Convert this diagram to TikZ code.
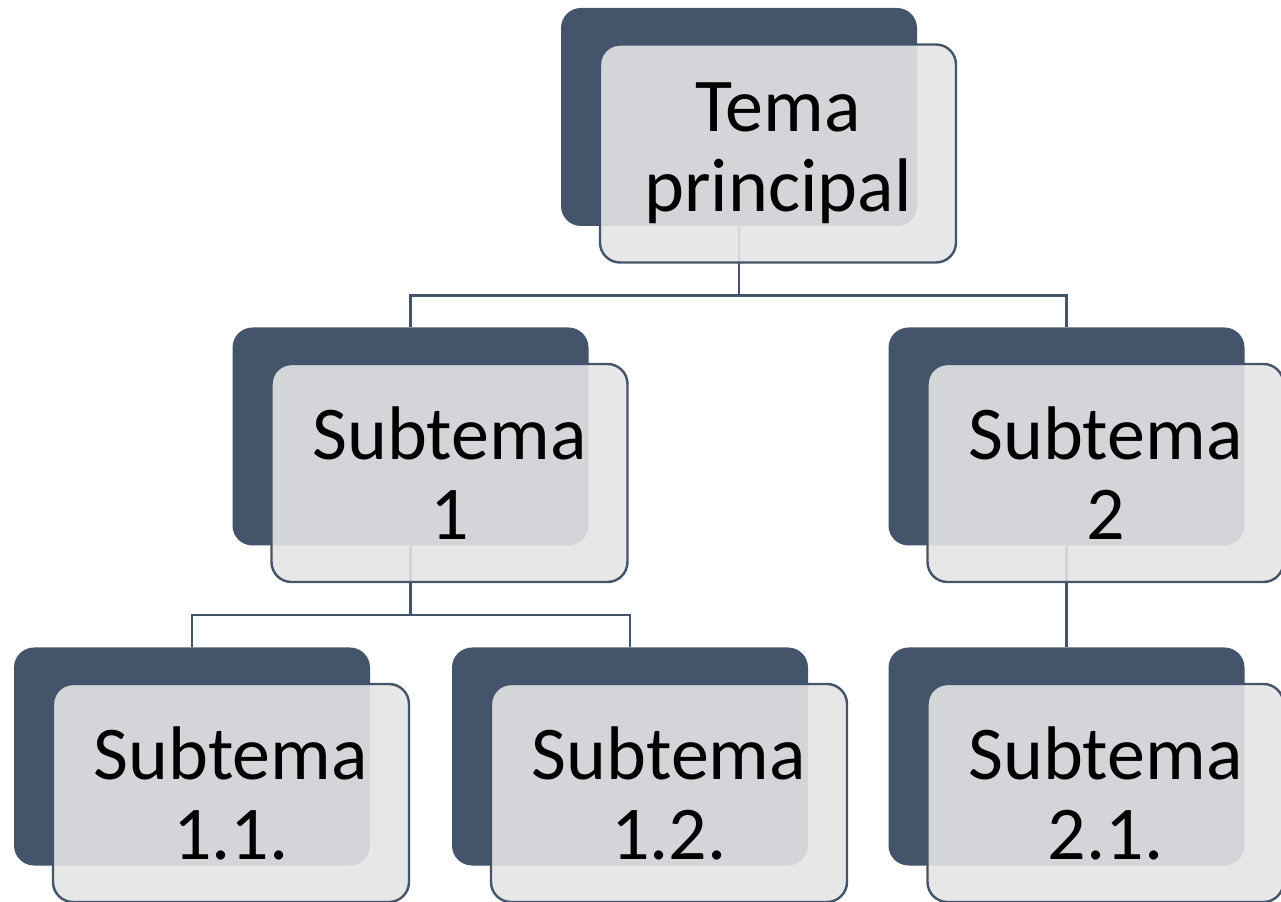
\documentclass[tikz,border=0pt]{standalone}
\usepackage{fontspec}
\setmainfont{Carlito}
\usetikzlibrary{calc}

\definecolor{azul}{HTML}{44546A}
\definecolor{gris}{HTML}{E4E4E4}

\tikzset{
    fondo/.style={rectangle, rounded corners=10pt, fill=azul, inner sep=0pt,
        minimum width=178pt, minimum height=109pt},
    tarjeta/.style={rectangle, rounded corners=10pt, draw=azul, line width=1.2pt,
        fill=gris, fill opacity=0.9, text opacity=1, inner sep=0pt,
        minimum width=178pt, minimum height=109pt, align=center,
        font=\fontsize{38}{40}\selectfont},
    rama/.style={draw=azul, line width=1.25pt}
}

\begin{document}
\begin{tikzpicture}[x=0.5pt, y=0.5pt]
    \useasboundingbox (0,0) rectangle (1281,901);

    % bloques oscuros de fondo
    \node[fondo] (tema-b) at (739,784)    {};
    \node[fondo] (s1-b)   at (410.5,464.5) {};
    \node[fondo] (s2-b)   at (1066.5,464.5) {};
    \node[fondo] (s11-b)  at (192,144.5)  {};
    \node[fondo] (s12-b)  at (630,144.5)  {};
    \node[fondo] (s21-b)  at (1066.5,144.5) {};

    % ramas
    \draw[rama] (tema-b.south) -- ++(0,-69) -| (s1-b.north);
    \draw[rama] (tema-b.south) -- ++(0,-69) -| (s2-b.north);
    \draw[rama] (s1-b.south) -- ++(0,-69) -| (s11-b.north);
    \draw[rama] (s1-b.south) -- ++(0,-69) -| (s12-b.north);
    \draw[rama] (s2-b.south) -- (s21-b.north);

    % tarjetas con texto
    \node[tarjeta] (tema) at ($(tema-b)+(39,-36.5)$) {Tema\\principal};
    \node[tarjeta] (s1)   at ($(s1-b)+(39,-36.5)$)   {Subtema\\1};
    \node[tarjeta] (s2)   at ($(s2-b)+(39,-36.5)$)   {Subtema\\2};
    \node[tarjeta] (s11)  at ($(s11-b)+(39,-36.5)$)  {Subtema\\1.1.};
    \node[tarjeta] (s12)  at ($(s12-b)+(39,-36.5)$)  {Subtema\\1.2.};
    \node[tarjeta] (s21)  at ($(s21-b)+(39,-36.5)$)  {Subtema\\2.1.};
\end{tikzpicture}
\end{document}
